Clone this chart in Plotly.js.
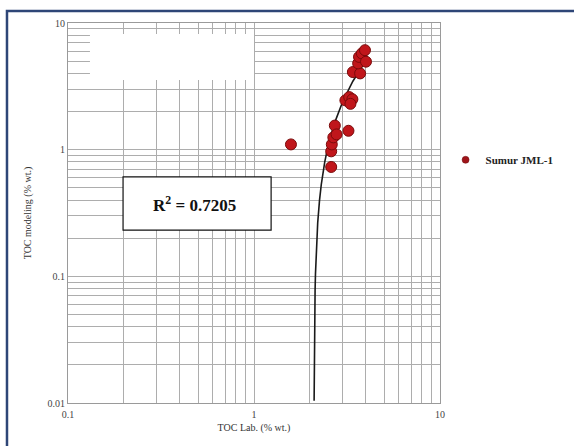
<!DOCTYPE html>
<html>
<head>
<meta charset="utf-8">
<script src="https://cdn.plot.ly/plotly-3.0.1.min.js"></script>
<style>
html,body{margin:0;padding:0;background:#fff;}
#chart{width:574px;height:446px;}
</style>
</head>
<body>
<div id="chart"></div>
<script>
// Measured data: TOC Lab vs TOC modeling (Sumur JML-1)
const tocLab = [1.58, 2.60, 2.60, 2.62, 2.67, 2.72, 2.78, 3.22, 3.10, 3.25, 3.38, 3.30, 3.40, 3.72, 3.63, 3.67, 3.80, 3.95, 4.00];
const tocModel = [1.10, 0.73, 0.97, 1.10, 1.25, 1.55, 1.32, 1.41, 2.45, 2.60, 2.50, 2.30, 4.10, 4.00, 4.80, 5.40, 5.75, 6.10, 4.95];

// Linear trendline points
const trendX = [2.105, 2.107, 2.11, 2.115, 2.12, 2.13, 2.14, 2.17, 2.20, 2.25, 2.30, 2.40, 2.50, 2.70, 3.00, 3.40, 3.80, 4.00];
const trendY = [0.0104, 0.0157, 0.0237, 0.037, 0.0504, 0.0771, 0.1038, 0.184, 0.264, 0.3975, 0.531, 0.798, 1.065, 1.599, 2.40, 3.468, 4.536, 5.07];

const seriesName = "Sumur JML-1";
const r2Text = "R<sup>2</sup> = 0.7205";
const xTitle = "TOC Lab. (% wt.)";
const yTitle = "TOC modeling (% wt.)";
const xTickVals = [0.1, 1, 10];
const xTickText = ["0.1", "1", "10"];
const yTickVals = [0.01, 0.1, 1, 10];
const yTickText = ["0.01", "0.1", "1", "10"];

const serif = "Liberation Serif, Times New Roman, serif";
const gridC = "#adadad";

const traces = [
  {
    x: trendX, y: trendY, type: "scatter", mode: "lines",
    line: {color: "#1a1a1a", width: 1.6},
    showlegend: false, hoverinfo: "skip"
  },
  {
    x: tocLab, y: tocModel, type: "scatter", mode: "markers",
    name: seriesName, showlegend: false,
    marker: {size: 11, color: "#c0161b", line: {color: "#7a0a0a", width: 1}}
  },
  {
    // legend entry only (smaller symbol, as in the reference)
    x: [null], y: [null], type: "scatter", mode: "markers",
    name: seriesName, showlegend: true,
    marker: {size: 7, color: "#a0141a", line: {color: "#6a0a0a", width: 0.5}}
  }
];

const layout = {
  width: 574, height: 446,
  margin: {l: 68, r: 134, t: 23, b: 43, autoexpand: false},
  paper_bgcolor: "#ffffff", plot_bgcolor: "#ffffff",
  font: {family: serif, size: 10, color: "#333"},
  xaxis: {
    type: "log", range: [-1, 1],
    tickvals: xTickVals, ticktext: xTickText,
    showgrid: true, gridcolor: gridC, gridwidth: 1,
    minor: {dtick: "D1", showgrid: true, gridcolor: gridC, gridwidth: 1, ticks: ""},
    showline: true, linecolor: "#9a9a9a", linewidth: 1, mirror: true,
    ticks: "", zeroline: false, ticklabelstandoff: 2,
    tickfont: {family: serif, size: 10, color: "#444"},
    title: {text: xTitle, font: {family: serif, size: 10, color: "#333"}, standoff: 4}
  },
  yaxis: {
    type: "log", range: [-2, 1],
    tickvals: yTickVals, ticktext: yTickText,
    showgrid: true, gridcolor: gridC, gridwidth: 1,
    minor: {dtick: "D1", showgrid: true, gridcolor: gridC, gridwidth: 1, ticks: ""},
    showline: true, linecolor: "#9a9a9a", linewidth: 1, mirror: true,
    ticks: "", zeroline: false,
    tickfont: {family: serif, size: 10, color: "#444"},
    title: {text: yTitle, font: {family: serif, size: 10, color: "#333"}, standoff: 14}
  },
  showlegend: true,
  legend: {
    x: 1.015, y: 0.64, xanchor: "left", yanchor: "middle",
    font: {family: serif, size: 11, color: "#222", weight: "bold"},
    bgcolor: "rgba(0,0,0,0)"
  },
  shapes: [
    // white patch covering grid at upper left
    {type: "rect", xref: "paper", yref: "paper", x0: 0.059, x1: 0.5, y0: 0.85, y1: 0.971,
     fillcolor: "#ffffff", line: {width: 0}, layer: "above"},
    // R2 box
    {type: "rect", xref: "paper", yref: "paper", x0: 0.148, x1: 0.546, y0: 0.455, y1: 0.595,
     fillcolor: "#ffffff", line: {color: "#111", width: 1.2}, layer: "above"},
    // outer frame
    {type: "rect", xref: "paper", yref: "paper", x0: -0.164, x1: 1.4, y0: -0.15, y1: 1.0316,
     fillcolor: "rgba(0,0,0,0)", line: {color: "#2e4677", width: 2.5}, layer: "above"}
  ],
  annotations: [
    {xref: "paper", yref: "paper", x: 0.34, y: 0.525, xanchor: "center", yanchor: "middle",
     text: "<b>" + r2Text + "</b>", showarrow: false,
     font: {family: serif, size: 17, color: "#111"}}
  ]
};

Plotly.newPlot("chart", traces, layout, {displayModeBar: false, staticPlot: true});
</script>
</body>
</html>
